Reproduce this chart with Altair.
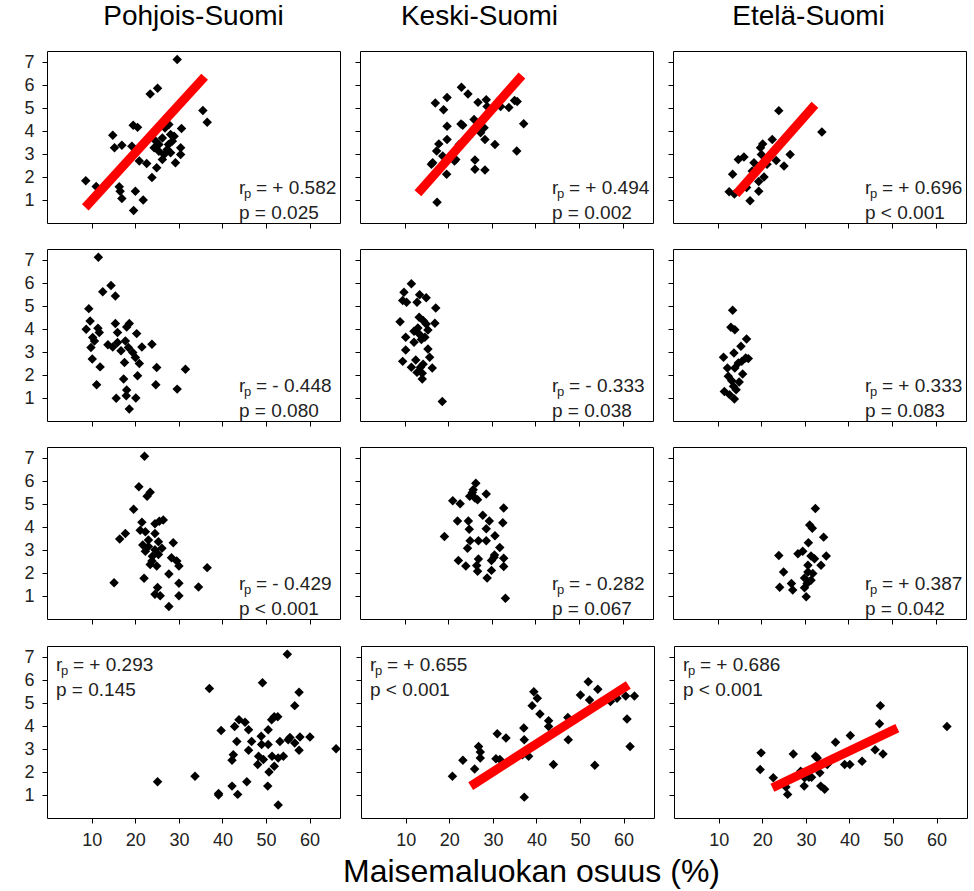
import altair as alt
import pandas as pd

FONT = "Liberation Sans"
col_titles = ["Pohjois-Suomi", "Keski-Suomi", "Etelä-Suomi"]
x_ticks = [10, 20, 30, 40, 50, 60]
y_ticks = [1, 2, 3, 4, 5, 6, 7]
x_title = "Maisemaluokan osuus (%)"

# ---- row 1 ----
p11_x = [8.6, 11.0, 14.8, 15.2, 16.9, 16.3, 16.5, 16.9, 19.5, 20.5, 19.2, 20.0, 21.8, 19.6, 20.9, 22.6, 23.4, 25.1, 23.8, 24.9, 24.3, 25.4, 26.2, 26.8, 27.7, 28.1, 27.6, 26.6, 26.2, 28.5, 29.2, 29.6, 30.6, 30.4, 30.4, 35.5, 36.5, 25.4, 27.3, 28.1, 28.9, 24.7]
p11_y = [1.84, 1.59, 3.83, 3.28, 3.39, 1.58, 1.38, 1.07, 4.26, 4.17, 3.35, 1.38, 1.00, 0.54, 2.70, 2.59, 5.63, 5.88, 1.98, 2.41, 3.28, 3.42, 3.71, 4.14, 4.29, 3.86, 3.42, 2.99, 2.77, 3.57, 2.63, 7.13, 4.12, 3.28, 2.99, 4.91, 4.39, 3.13, 3.21, 3.06, 3.78, 3.57]
p12_x = [17.0, 18.9, 19.7, 23.0, 24.5, 26.8, 28.7, 28.9, 32.0, 33.9, 35.2, 35.8, 37.3, 19.7, 22.9, 23.3, 25.9, 26.7, 28.2, 27.4, 28.4, 30.7, 19.7, 17.8, 17.3, 16.4, 16.1, 18.7, 21.7, 21.4, 19.6, 26.1, 26.1, 28.4, 35.7, 17.4, 22.5, 24.8]
p12_y = [5.23, 4.94, 5.47, 5.92, 5.62, 5.26, 5.37, 5.08, 5.08, 5.04, 5.34, 5.30, 4.33, 4.22, 4.32, 4.26, 4.51, 4.26, 4.15, 3.93, 3.64, 3.42, 3.64, 3.45, 3.14, 2.63, 2.56, 2.92, 2.77, 2.70, 2.13, 2.75, 2.34, 2.31, 3.14, 0.90, 3.42, 3.86]
p13_x = [12.6, 13.8, 13.4, 14.7, 16.0, 17.4, 16.6, 18.3, 19.4, 19.4, 19.8, 20.3, 20.0, 20.6, 22.5, 23.4, 24.0, 25.2, 26.6, 33.9, 17.9, 21.3]
p13_y = [1.36, 1.26, 2.13, 2.77, 2.88, 0.97, 1.55, 2.63, 1.38, 1.81, 3.28, 3.45, 2.99, 2.01, 3.64, 2.73, 4.90, 2.49, 2.99, 3.97, 2.27, 2.56]

# ---- row 2 ----
p21_x = [11.5, 12.5, 14.4, 15.4, 9.3, 9.6, 8.7, 11.4, 11.7, 10.2, 10.6, 9.8, 10.1, 11.9, 11.1, 15.4, 15.9, 18.6, 18.0, 20.3, 13.7, 14.8, 15.9, 16.7, 17.7, 18.4, 19.4, 20.0, 17.5, 20.9, 21.5, 23.8, 20.5, 17.3, 24.9, 24.7, 29.6, 31.5, 15.6, 18.0, 17.9, 20.1, 18.6]
p21_y = [7.14, 5.64, 5.91, 5.45, 4.90, 4.36, 4.00, 4.04, 3.86, 3.64, 3.49, 3.20, 2.70, 2.36, 1.58, 4.25, 3.86, 4.25, 4.10, 3.81, 3.32, 3.23, 3.42, 3.06, 3.49, 3.20, 2.99, 2.77, 2.55, 2.51, 3.23, 3.35, 1.97, 1.83, 2.33, 1.58, 1.39, 2.26, 0.99, 1.35, 1.10, 1.00, 0.52]
p22_x = [11.5, 9.8, 9.5, 10.4, 13.4, 14.9, 12.8, 17.1, 8.9, 13.3, 14.2, 14.9, 16.9, 15.3, 12.1, 14.6, 13.8, 12.1, 10.2, 10.2, 15.3, 15.7, 9.5, 12.5, 11.5, 14.2, 13.6, 12.8, 14.0, 16.3, 14.0, 18.6, 13.0, 13.3]
p22_y = [5.98, 5.61, 5.25, 5.18, 5.50, 5.37, 5.18, 4.93, 4.33, 4.52, 4.38, 4.23, 4.26, 3.97, 3.91, 3.65, 3.55, 3.43, 3.65, 3.10, 3.14, 2.78, 2.60, 2.66, 2.34, 2.48, 2.34, 2.12, 2.08, 2.31, 1.83, 0.85, 4.06, 3.79]
p23_x = [13.4, 13.0, 13.9, 16.6, 15.3, 13.7, 11.3, 16.4, 17.0, 14.7, 12.2, 13.9, 15.7, 12.4, 13.2, 14.9, 14.2, 11.5, 12.7, 13.8, 13.6, 15.5]
p23_y = [4.83, 4.09, 3.98, 3.58, 3.26, 2.97, 2.78, 2.75, 2.72, 2.53, 2.31, 2.31, 2.05, 1.95, 1.76, 1.70, 1.36, 1.29, 1.15, 0.96, 1.51, 2.60]

# ---- row 3 ----
p31_x = [22.1, 20.8, 22.7, 23.4, 19.6, 21.5, 21.1, 22.3, 24.5, 25.5, 26.4, 24.5, 17.7, 16.4, 21.7, 23.0, 25.3, 26.1, 22.3, 23.9, 25.3, 28.7, 28.3, 29.5, 23.8, 24.9, 30.0, 27.7, 22.0, 15.1, 30.0, 34.5, 36.5, 25.1, 24.5, 25.7, 30.0, 27.7, 23.0, 24.5, 23.4]
p31_y = [7.10, 5.77, 5.35, 5.53, 4.79, 4.22, 3.87, 3.80, 4.15, 4.26, 4.32, 3.73, 3.73, 3.49, 3.23, 3.44, 3.37, 3.09, 2.95, 2.74, 2.81, 3.33, 2.67, 2.53, 2.53, 2.31, 2.31, 1.96, 1.78, 1.58, 1.56, 1.40, 2.24, 1.37, 1.08, 1.01, 1.01, 0.55, 3.16, 3.02, 2.38]
p32_x = [19.1, 21.0, 22.7, 22.1, 22.3, 24.0, 24.4, 24.6, 24.8, 24.9, 25.5, 26.1, 26.3, 26.7, 28.7, 25.0, 26.9, 28.7, 27.9, 29.4, 28.7, 30.7, 32.7, 32.5, 31.8, 30.6, 32.7, 26.9, 26.5, 26.7, 29.9, 29.9, 28.9, 32.7, 33.1, 30.5, 25.7]
p32_y = [3.60, 5.16, 5.03, 4.27, 2.55, 2.31, 3.08, 4.27, 3.91, 5.35, 5.52, 5.28, 5.92, 5.20, 5.45, 3.41, 3.41, 3.41, 4.52, 4.27, 3.94, 3.63, 4.84, 4.20, 3.12, 2.79, 2.65, 2.62, 2.33, 2.08, 2.55, 2.12, 1.79, 2.29, 0.90, 2.69, 5.64]
p33_x = [32.4, 31.1, 31.7, 34.3, 30.8, 24.0, 28.4, 29.5, 31.4, 32.2, 34.9, 33.7, 30.7, 25.1, 31.8, 29.9, 31.4, 26.9, 24.2, 27.2, 29.9, 30.3, 30.5, 30.7]
p33_y = [4.82, 4.10, 3.96, 3.57, 3.32, 2.77, 2.85, 2.95, 2.75, 2.63, 2.75, 2.34, 2.34, 2.05, 1.98, 1.79, 1.69, 1.55, 1.38, 1.26, 1.36, 0.97, 1.55, 2.05]

# ---- row 4 ----
p41_x = [25.1, 33.7, 37.0, 39.7, 39.1, 39.1, 42.2, 43.5, 42.8, 43.8, 45.2, 46.0, 43.3, 42.5, 42.2, 46.7, 46.0, 45.6, 48.9, 48.3, 48.1, 49.4, 49.0, 49.2, 50.5, 51.3, 51.9, 52.7, 50.5, 51.4, 51.9, 50.7, 50.4, 52.8, 52.8, 54.0, 53.2, 54.9, 55.1, 55.5, 56.6, 56.6, 57.6, 57.8, 57.6, 60.1, 66.1]
p41_y = [1.58, 1.82, 5.65, 3.82, 1.07, 1.00, 1.39, 1.03, 3.99, 4.28, 4.18, 3.85, 3.34, 2.76, 2.52, 3.34, 2.95, 1.58, 3.56, 2.69, 2.33, 2.55, 3.20, 5.90, 3.85, 4.28, 4.42, 4.42, 3.20, 2.69, 2.26, 2.01, 1.39, 0.57, 2.62, 2.69, 3.34, 7.14, 3.41, 3.51, 3.27, 4.90, 5.48, 3.53, 2.95, 3.53, 3.02]
p42_x = [20.7, 23.1, 25.8, 26.7, 27.1, 27.1, 31.0, 33.0, 30.7, 31.6, 37.1, 37.2, 37.2, 38.2, 39.0, 39.4, 40.2, 40.8, 42.8, 42.8, 43.9, 47.2, 47.3, 50.1, 51.9, 52.2, 54.1, 53.4, 57.0, 58.5, 60.5, 62.5, 60.8, 61.5, 36.8]
p42_y = [1.82, 2.52, 2.14, 3.12, 2.88, 2.62, 3.67, 3.49, 2.58, 2.55, 3.92, 3.41, 0.91, 2.69, 4.90, 5.51, 5.22, 4.53, 4.24, 3.99, 2.33, 4.38, 3.41, 5.36, 5.94, 5.15, 5.61, 2.30, 5.08, 5.22, 5.32, 5.32, 4.32, 3.12, 2.76]
p43_x = [19.7, 19.5, 22.5, 25.4, 25.8, 27.1, 29.6, 29.7, 30.7, 31.3, 32.2, 32.6, 33.2, 33.4, 34.3, 36.8, 38.9, 40.1, 40.2, 42.9, 45.9, 47.1, 46.9, 47.7, 62.4, 28.8, 34.9]
p43_y = [2.84, 2.11, 1.75, 1.35, 1.03, 2.79, 1.39, 1.75, 1.78, 1.78, 2.69, 2.62, 1.97, 1.39, 1.25, 3.30, 2.33, 2.33, 3.60, 2.47, 2.98, 4.90, 4.11, 2.79, 3.99, 2.04, 2.33]

# ---- red trend lines (end points) ----
l11_x, l11_y = [8.5, 35.9], [0.68, 6.38]
l12_x, l12_y = [13.0, 36.9], [1.30, 6.43]
l13_x, l13_y = [14.2, 32.3], [1.26, 5.16]
l42_x, l42_y = [24.9, 61.1], [1.39, 5.80]
l43_x, l43_y = [22.3, 51.0], [1.32, 3.92]

# ---- statistics ----
r_text = [["+ 0.582", "+ 0.494", "+ 0.696"],
          ["- 0.448", "- 0.333", "+ 0.333"],
          ["- 0.429", "- 0.282", "+ 0.387"],
          ["+ 0.293", "+ 0.655", "+ 0.686"]]
p_text = [["= 0.025", "= 0.002", "< 0.001"],
          ["= 0.080", "= 0.038", "= 0.083"],
          ["< 0.001", "= 0.067", "= 0.042"],
          ["= 0.145", "< 0.001", "< 0.001"]]

points_x = [[p11_x, p12_x, p13_x], [p21_x, p22_x, p23_x], [p31_x, p32_x, p33_x], [p41_x, p42_x, p43_x]]
points_y = [[p11_y, p12_y, p13_y], [p21_y, p22_y, p23_y], [p31_y, p32_y, p33_y], [p41_y, p42_y, p43_y]]
lines = {(0, 0): (l11_x, l11_y), (0, 1): (l12_x, l12_y), (0, 2): (l13_x, l13_y),
         (3, 1): (l42_x, l42_y), (3, 2): (l43_x, l43_y)}

W, H = 293, 172
XS = alt.Scale(domain=[-0.3, 67], nice=False, zero=False)
YS = alt.Scale(domain=[0, 7.5], nice=False, zero=False)
title_dx = [0, -27, -11]


def text_layer(txt, x, y, size):
    df = pd.DataFrame({"t": [txt]})
    return alt.Chart(df).mark_text(align="left", baseline="alphabetic", font=FONT,
                                   fontSize=size, color="#222222").encode(
        x=alt.value(x), y=alt.value(y), text="t:N")


def make_panel(i, j):
    df = pd.DataFrame({"x": points_x[i][j], "y": points_y[i][j]})
    xaxis = alt.Axis(values=x_ticks, labels=(i == 3), title=None, grid=False, domain=False,
                     tickSize=5, labelPadding=8, labelFontSize=18, labelOverlap=False)
    yaxis = alt.Axis(values=y_ticks, labels=(j == 0), title=None, grid=False, domain=False,
                     tickSize=5, labelPadding=8, labelFontSize=18, labelOverlap=False)
    pts = alt.Chart(df).mark_point(shape="diamond", filled=True, size=90, color="black",
                                   opacity=1).encode(
        x=alt.X("x:Q", scale=XS, axis=xaxis),
        y=alt.Y("y:Q", scale=YS, axis=yaxis))
    layers = [pts]
    if (i, j) in lines:
        lx, ly = lines[(i, j)]
        ldf = pd.DataFrame({"x": lx, "y": ly})
        layers.append(alt.Chart(ldf).mark_line(color="red", strokeWidth=9, strokeCap="butt").encode(
            x=alt.X("x:Q", scale=XS, axis=xaxis), y=alt.Y("y:Q", scale=YS, axis=yaxis)))
    if i == 3:
        ax, ay = 9, 25
    else:
        ax, ay = 192, 143
    layers.append(text_layer("r", ax, ay, 19))
    layers.append(text_layer("p", ax + 5, ay + 4, 13))
    layers.append(text_layer("= " + r_text[i][j], ax + 17, ay, 19))
    layers.append(text_layer("p " + p_text[i][j], ax, ay + 25, 19))
    props = dict(width=W, height=H)
    if i == 0:
        props["title"] = alt.TitleParams(col_titles[j], fontSize=28, font=FONT, fontWeight="normal",
                                         color="black", offset=20, dx=title_dx[j])
    return alt.layer(*layers).properties(**props)


top_rows = alt.vconcat(*[alt.hconcat(*[make_panel(i, j) for j in range(3)], spacing=13)
                         for i in range(3)], spacing=19)
bottom_row = alt.hconcat(*[make_panel(3, j) for j in range(3)], spacing=13)

chart = alt.vconcat(top_rows, bottom_row, spacing=20).properties(
    title=alt.TitleParams(x_title, orient="bottom", anchor="middle", fontSize=32, font=FONT,
                          fontWeight="normal", color="black", dx=36, offset=7),
    padding={"left": 23, "top": 2, "right": 5, "bottom": 2},
    background="white",
).configure_view(stroke="black", strokeWidth=1).configure_axis(
    labelFont=FONT, labelColor="#222222", tickColor="black", tickWidth=1)

chart.save("out.html", embed_options={"renderer": "svg", "actions": False})
